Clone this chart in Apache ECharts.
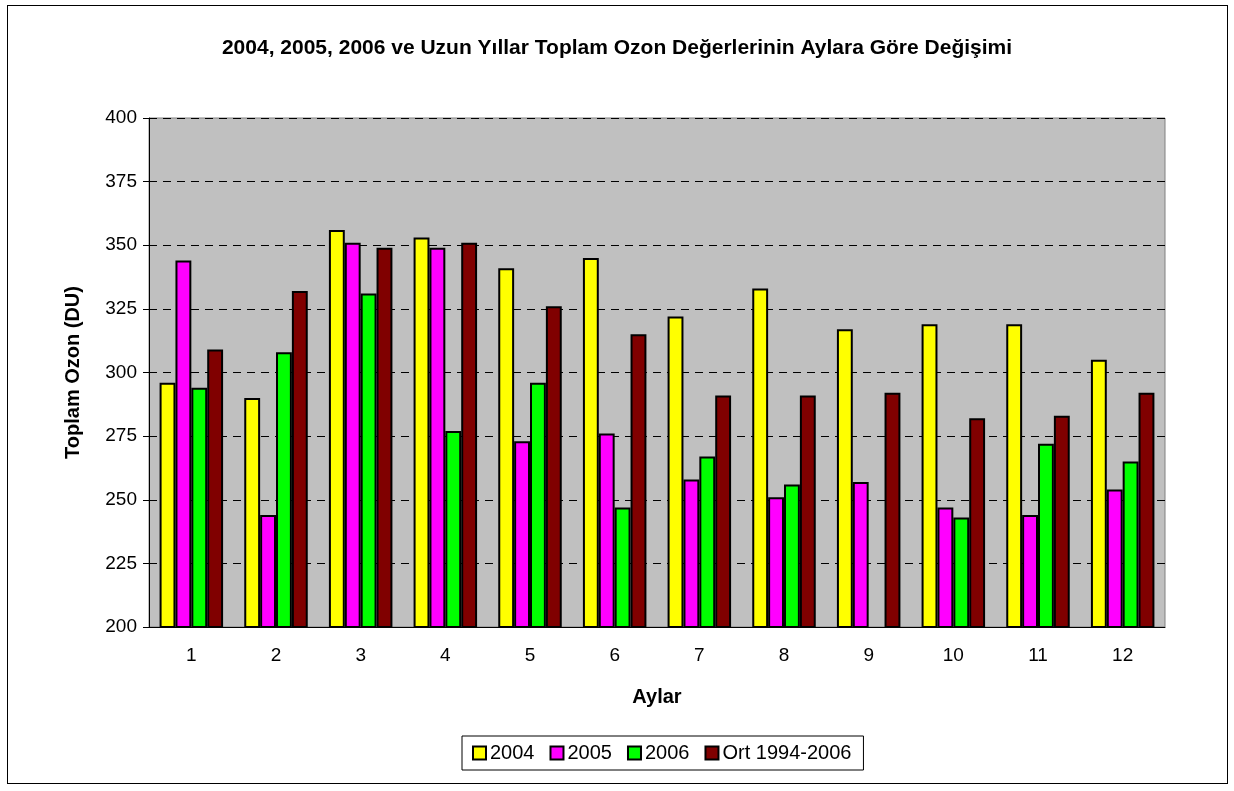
<!DOCTYPE html>
<html>
<head>
<meta charset="utf-8">
<script src="https://cdn.jsdelivr.net/npm/echarts@6/dist/echarts.min.js"></script>
<style>
  html, body { margin: 0; padding: 0; background: #fff; }
  #frame { position: absolute; left: 7px; top: 5px; width: 1219px; height: 777px; border: 1px solid #000; }
  #chart { position: absolute; left: 0; top: 0; width: 1234px; height: 791px; }
</style>
</head>
<body>
<div id="frame"></div>
<div id="chart"></div>
<script>
// aylar (x ekseni)
var months = ["1", "2", "3", "4", "5", "6", "7", "8", "9", "10", "11", "12"];
// seri değerleri (DU)
var y2004 = [296, 290, 356, 353, 341, 345, 322, 333, 317, 319, 319, 305];
var y2005 = [344, 244, 351, 349, 273, 276, 258, 251, 257, 247, 244, 254];
var y2006 = [294, 308, 331, 277, 296, 247, 267, 256, null, 243, 272, 265];
var ort = [309, 332, 349, 351, 326, 315, 291, 291, 292, 282, 283, 292];
var seriesNames = ["2004", "2005", "2006", "Ort 1994-2006"];
var colors = ["#ffff00", "#ff00ff", "#00ff00", "#800000"];

var font = "Liberation Sans, Arial, sans-serif";
var myChart = echarts.init(document.getElementById("chart"));

function bar(name, data, color) {
  return {
    name: name,
    type: "bar",
    data: data,
    barGap: "0%",
    barCategoryGap: "25%",
    itemStyle: { color: color, borderColor: "#000", borderWidth: 2 }
  };
}

myChart.setOption({
  animation: false,
  textStyle: { fontFamily: font },
  title: {
    text: "2004, 2005, 2006 ve Uzun Yıllar Toplam Ozon Değerlerinin Aylara Göre Değişimi",
    left: "center",
    top: 33,
    textStyle: { fontFamily: font, fontSize: 21, fontWeight: "bold", color: "#000" }
  },
  legend: {
    top: 736,
    left: 462,
    itemWidth: 13,
    itemHeight: 13,
    itemGap: 15,
    padding: [7, 12, 7, 10],
    borderColor: "#000",
    borderWidth: 1,
    icon: "rect",
    textStyle: { fontFamily: font, fontSize: 20, color: "#000", padding: [0, 0, 0, -1] },
    itemStyle: { borderColor: "#000", borderWidth: 2 },
    data: seriesNames
  },
  grid: {
    left: 149,
    right: 69,
    top: 118,
    bottom: 164,
    show: true,
    backgroundColor: "#c0c0c0",
    borderColor: "#808080",
    borderWidth: 1
  },
  xAxis: {
    type: "category",
    data: months,
    name: "Aylar",
    nameLocation: "middle",
    nameGap: 60,
    nameTextStyle: { fontFamily: font, fontSize: 20, fontWeight: "bold", color: "#000" },
    axisLine: { lineStyle: { color: "#000", width: 1 } },
    axisTick: { show: false },
    axisLabel: { fontFamily: font, fontSize: 19, color: "#000", margin: 19 }
  },
  yAxis: {
    type: "value",
    min: 200,
    max: 400,
    interval: 25,
    name: "Toplam Ozon (DU)",
    nameLocation: "middle",
    nameGap: 66,
    nameTextStyle: { fontFamily: font, fontSize: 20, fontWeight: "bold", color: "#000" },
    axisLine: { show: true, lineStyle: { color: "#000", width: 1 } },
    axisTick: { show: true, length: 6, lineStyle: { color: "#000" } },
    axisLabel: { fontFamily: font, fontSize: 19, color: "#000", margin: 12 },
    splitLine: { show: true, lineStyle: { color: "#000", type: [8, 6], width: 1 } }
  },
  series: [
    bar(seriesNames[0], y2004, colors[0]),
    bar(seriesNames[1], y2005, colors[1]),
    bar(seriesNames[2], y2006, colors[2]),
    bar(seriesNames[3], ort, colors[3])
  ]
});
</script>
</body>
</html>
